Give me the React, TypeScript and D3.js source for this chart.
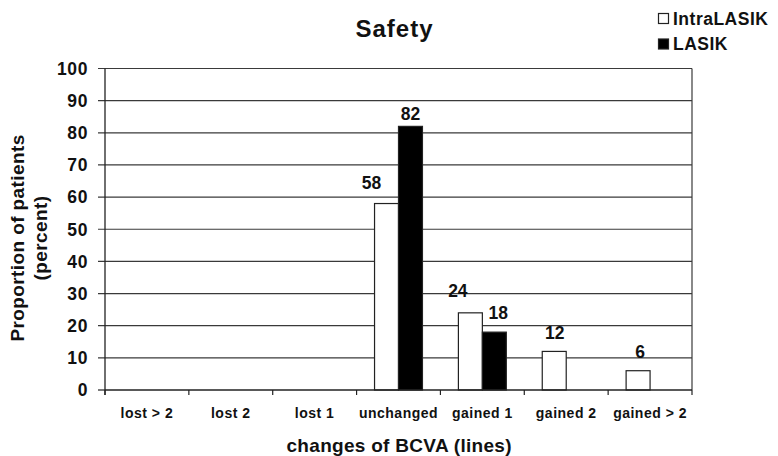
import React from "react";
import * as d3 from "d3";

const categories = ["lost > 2", "lost 2", "lost 1", "unchanged", "gained 1", "gained 2", "gained > 2"];
const seriesNames = ["IntraLASIK", "LASIK"];
const intraLasik = [0, 0, 0, 58, 24, 12, 6];
const lasik = [0, 0, 0, 82, 18, 0, 0];
const yTicks = [0, 10, 20, 30, 40, 50, 60, 70, 80, 90, 100];
const title = "Safety";
const xTitle = "changes of BCVA (lines)";
const yTitleLines = ["Proportion of patients", "(percent)"];

const FONT = "'Liberation Sans', Arial, Helvetica, sans-serif";

export default function App() {
  const W = 778, H = 456;
  const left = 105, right = 692, top = 68.5, bottom = 390;

  const x = d3.scaleBand<string>().domain(categories).range([left, right]).paddingInner(0).paddingOuter(0);
  const xi = d3.scaleBand<string>().domain(seriesNames).range([0, x.bandwidth()]).paddingInner(0).paddingOuter(0.75);
  const y = d3.scaleLinear().domain([0, 100]).range([bottom, top]);

  const seriesValues: Record<string, number[]> = { IntraLASIK: intraLasik, LASIK: lasik };
  const fills: Record<string, string> = { IntraLASIK: "#ffffff", LASIK: "#000000" };

  // label nudges (dx, dy from bar top)
  const nudge: Record<string, [number, number]> = {
    "IntraLASIK|unchanged": [-15, -14.5],
    "LASIK|unchanged": [0, -6.5],
    "IntraLASIK|gained 1": [-12.5, -16],
    "LASIK|gained 1": [4, -13],
    "IntraLASIK|gained 2": [0.5, -12.5],
    "IntraLASIK|gained > 2": [2, -12.7],
  };

  const boundaries = d3.range(categories.length + 1).map((i) => left + i * x.step());

  return (
    <svg width={W} height={H} style={{ position: "absolute", left: 0, top: 0, background: "#fff" }} fontFamily={FONT}>
      <rect x={0} y={0} width={W} height={H} fill="#fff" />
      {/* title */}
      <text x={394} y={37} textAnchor="middle" fontSize={24} fontWeight="bold" fill="#111" textLength={77} lengthAdjust="spacing">
        {title}
      </text>

      {/* gridlines */}
      {yTicks.filter((t) => t > 0).map((t) => (
        <line key={"g" + t} x1={left - 7} x2={right} y1={y(t)} y2={y(t)} stroke="#3a3a3a" strokeWidth={1.2} />
      ))}
      <line x1={left - 7} x2={left} y1={y(0)} y2={y(0)} stroke="#222" strokeWidth={1.2} />
      <line x1={right} x2={right} y1={top} y2={bottom} stroke="#3a3a3a" strokeWidth={1.2} />

      {/* bars */}
      {seriesNames.map((s) =>
        categories.map((c, i) => {
          const v = seriesValues[s][i];
          if (!v) return null;
          const bx = (x(c) as number) + (xi(s) as number);
          return (
            <rect key={s + c} x={bx} y={y(v)} width={xi.bandwidth()} height={bottom - y(v)}
              fill={fills[s]} stroke="#222" strokeWidth={1.2} />
          );
        })
      )}

      {/* value labels */}
      {seriesNames.map((s) =>
        categories.map((c, i) => {
          const v = seriesValues[s][i];
          if (!v) return null;
          const cx = (x(c) as number) + (xi(s) as number) + xi.bandwidth() / 2;
          const [dx, dy] = nudge[s + "|" + c] || [0, -12];
          return (
            <text key={"l" + s + c} x={cx + dx} y={y(v) + dy} textAnchor="middle" fontSize={17.5} fontWeight="bold" fill="#111">
              {v}
            </text>
          );
        })
      )}

      {/* axes */}
      <line x1={left} x2={left} y1={top} y2={bottom + 5} stroke="#222" strokeWidth={1.3} />
      <line x1={left} x2={right} y1={bottom} y2={bottom} stroke="#222" strokeWidth={1.3} />
      {boundaries.map((bx, i) => (
        <line key={"xt" + i} x1={bx} x2={bx} y1={bottom} y2={bottom + 5} stroke="#222" strokeWidth={1.2} />
      ))}

      {/* y tick labels */}
      {yTicks.map((t) => (
        <text key={"yl" + t} x={88} y={y(t)} dy="0.36em" textAnchor="end" fontSize={17.5} fontWeight="bold" fill="#111" letterSpacing={0.6}>
          {t}
        </text>
      ))}

      {/* x tick labels */}
      {categories.map((c) => (
        <text key={"xl" + c} x={(x(c) as number) + x.bandwidth() / 2} y={418} textAnchor="middle" fontSize={14} fontWeight="bold" fill="#111" letterSpacing={0.5}>
          {c}
        </text>
      ))}

      {/* x title */}
      <text x={399} y={452} textAnchor="middle" fontSize={19} fontWeight="bold" fill="#111" textLength={225} lengthAdjust="spacing">
        {xTitle}
      </text>

      {/* y title */}
      <g transform="translate(24,238) rotate(-90)">
        <text x={0} y={0} textAnchor="middle" fontSize={19} fontWeight="bold" fill="#111" letterSpacing={0.4}>
          {yTitleLines[0]}
        </text>
        <text x={0} y={23} textAnchor="middle" fontSize={19} fontWeight="bold" fill="#111" letterSpacing={0.4}>
          {yTitleLines[1]}
        </text>
      </g>

      {/* legend */}
      {seriesNames.map((s, i) => (
        <g key={"lg" + s}>
          <rect x={658.5} y={13.5 + i * 25.5} width={10} height={10} fill={fills[s]} stroke="#222" strokeWidth={1.2} />
          <text x={673} y={24.5 + i * 25.5} fontSize={17.5} fontWeight="bold" fill="#111" letterSpacing={0.5}>
            {s}
          </text>
        </g>
      ))}
    </svg>
  );
}
